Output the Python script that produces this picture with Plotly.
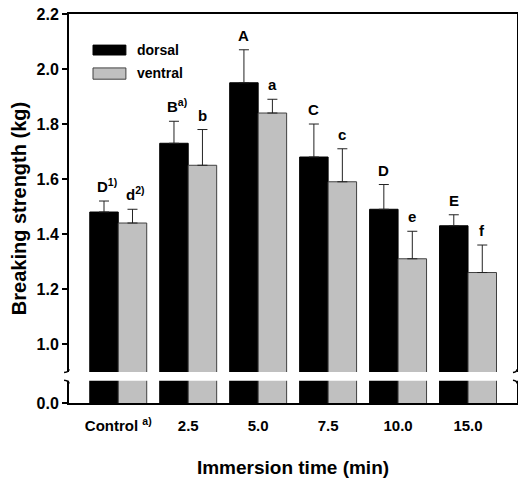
import plotly.graph_objects as go

categories = ["Control", "2.5", "5.0", "7.5", "10.0", "15.0"]
tick_labels = ["Control <sup>a)</sup>", "2.5", "5.0", "7.5", "10.0", "15.0"]
dorsal = [1.48, 1.73, 1.95, 1.68, 1.49, 1.43]
dorsal_err = [0.04, 0.08, 0.12, 0.12, 0.09, 0.04]
ventral = [1.44, 1.65, 1.84, 1.59, 1.31, 1.26]
ventral_err = [0.05, 0.13, 0.05, 0.12, 0.10, 0.10]
dorsal_letters = ["D<sup>1)</sup>", "B<sup>a)</sup>", "A", "C", "D", "E"]
ventral_letters = ["d<sup>2)</sup>", "b", "a", "c", "e", "f"]
y_ticks = [1.0, 1.2, 1.4, 1.6, 1.8, 2.0, 2.2]

BREAK_BASE = 0.7855   # axis position drawn as "0.0" (broken axis)
GAP = (0.866, 0.898)  # white break band

FONT = "Liberation Sans, Arial, sans-serif"

fig = go.Figure()
fig.add_trace(go.Bar(
    x=categories, y=dorsal, name="dorsal",
    marker=dict(color="#000000", line=dict(color="#000000", width=1)),
    error_y=dict(type="data", array=dorsal_err, symmetric=False, arrayminus=[0]*6,
                 color="#222222", thickness=1, width=5),
))
fig.add_trace(go.Bar(
    x=categories, y=ventral, name="ventral",
    marker=dict(color="#c0c0c0", line=dict(color="#404040", width=1)),
    error_y=dict(type="data", array=ventral_err, symmetric=False, arrayminus=[0]*6,
                 color="#222222", thickness=1, width=5),
))

BAR_OFF = 14.25
anns = []
for i, c in enumerate(categories):
    for vals, errs, labs, sgn in ((dorsal, dorsal_err, dorsal_letters, -1),
                                  (ventral, ventral_err, ventral_letters, 1)):
        lab = labs[i]
        extra = 3 if "<sup>" in lab else 0
        anns.append(dict(x=i, y=vals[i] + errs[i], xref="x", yref="y",
                         text=lab, showarrow=False, yanchor="bottom",
                         xanchor="center", xshift=sgn * BAR_OFF + extra, yshift=4,
                         font=dict(family=FONT, size=15, color="black", weight="bold")))

# legend as text
anns.append(dict(x=0.147, y=2.069, xref="paper", yref="y", text="dorsal",
                 showarrow=False, xanchor="left", yanchor="middle",
                 font=dict(family=FONT, size=14, color="black", weight="bold")))
anns.append(dict(x=0.147, y=1.984, xref="paper", yref="y", text="ventral",
                 showarrow=False, xanchor="left", yanchor="middle",
                 font=dict(family=FONT, size=14, color="black", weight="bold")))

shapes = [
    dict(type="rect", xref="paper", yref="y", x0=0.0536, x1=0.127, y0=2.051, y1=2.087,
         fillcolor="black", line=dict(color="black", width=1)),
    dict(type="rect", xref="paper", yref="y", x0=0.0536, x1=0.127, y0=1.963, y1=2.004,
         fillcolor="#c0c0c0", line=dict(color="#404040", width=1)),
    # break band
    dict(type="rect", xref="paper", yref="y", x0=-0.008, x1=1.008, y0=GAP[0], y1=GAP[1],
         fillcolor="white", line=dict(width=0), layer="above"),
]
for xa, d in ((0.0, -0.011), (1.0, -0.009)):
    shapes.append(dict(type="path", xref="paper", yref="y", layer="above",
                       path=f"M {xa},{GAP[1]+0.01} Q {xa},{GAP[1]} {xa+d},{GAP[1]-0.002}",
                       line=dict(color="black", width=1.5)))
    shapes.append(dict(type="path", xref="paper", yref="y", layer="above",
                       path=f"M {xa+d},{GAP[0]+0.002} Q {xa},{GAP[0]} {xa},{GAP[0]-0.01}",
                       line=dict(color="black", width=1.5)))

fig.update_layout(
    width=518, height=483,
    margin=dict(l=69, r=1, t=14, b=80, autoexpand=False),
    barmode="group", bargap=0.186, bargroupgap=0,
    showlegend=False,
    plot_bgcolor="white", paper_bgcolor="white",
    font=dict(family=FONT, color="black"),
    annotations=anns, shapes=shapes,
)
fig.update_xaxes(
    type="category", range=[-0.704, 5.70], automargin=False,
    tickvals=categories, ticktext=tick_labels,
    showline=True, linecolor="black", linewidth=2, mirror=True,
    ticks="", ticklabelstandoff=8, showgrid=False, zeroline=False,
    tickfont=dict(family=FONT, size=15, color="black", weight="bold"),
    title=dict(text="Immersion time (min)", standoff=28,
               font=dict(family=FONT, size=19, color="black", weight="bold")),
)
fig.update_yaxes(
    range=[BREAK_BASE, 2.2001], automargin=False,
    tickvals=[BREAK_BASE] + y_ticks,
    ticktext=["0.0"] + [f"{v:.1f}" for v in y_ticks],
    showline=True, linecolor="black", linewidth=2, mirror=True,
    ticks="outside", ticklen=5, tickwidth=1.5, tickcolor="black",
    showgrid=False, zeroline=False,
    tickfont=dict(family=FONT, size=16, color="black", weight="bold"),
    title=dict(text="Breaking strength (kg)", standoff=5,
               font=dict(family=FONT, size=20, color="black", weight="bold")),
)

# remove the page's default 8px body margin so the figure sits at the window origin
fig.write_html("out.html", config={"displayModeBar": False},
               post_script="document.body.style.margin='0px';")
